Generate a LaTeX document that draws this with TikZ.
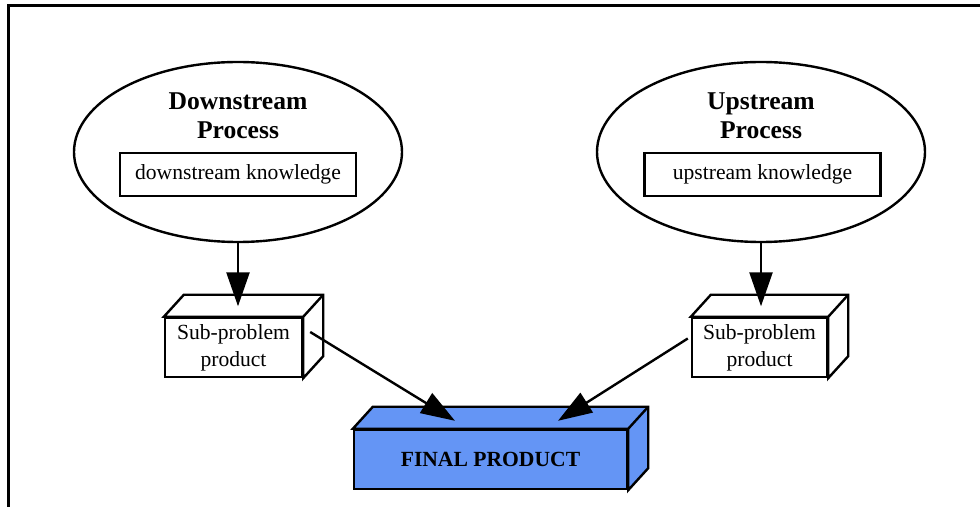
\documentclass[tikz,border=0pt]{standalone}
\usepackage{fontspec}
\setmainfont{Liberation Serif}
\usetikzlibrary{arrows.meta, shapes.geometric}
\definecolor{prodblue}{HTML}{6495F5}

\begin{document}
\begin{tikzpicture}[
    x=0.5pt, y=-0.5pt,
    >={Triangle[length=17pt, width=11.5pt]},
    line width=1.2pt,
  ]

  \useasboundingbox (0,0) rectangle (980,507);

  % Frame (right and bottom sides run off the page)
  \draw[line width=1.5pt] (8,6) rectangle (1020,540);

  % --- Styles ---
  \tikzset{
    process/.style={ellipse, draw, minimum width=164pt, minimum height=90pt,
                    inner sep=0pt},
    proctitle/.style={font=\fontsize{12.8}{14.5}\selectfont\bfseries,
                      align=center},
    knowbox/.style={draw, minimum width=118pt, minimum height=21.5pt,
                    inner sep=0pt, font=\fontsize{10.8}{13}\selectfont},
    box3d/.style={draw, minimum height=29.5pt, inner sep=0pt, align=center,
                  font=\fontsize{10.8}{13.5}\selectfont},
    flow/.style={->, shorten >=5.25pt},
  }

  % --- Processes (top) ---
  \node[process] (downProc) at (238,152) {};
  \node[proctitle] (downTitle) at (238,116) {Downstream\\Process};
  \node[knowbox] (downKnow) at (238,174.5) {downstream knowledge};

  \node[process] (upProc) at (761,152) {};
  \node[proctitle] (upTitle) at (761,116) {Upstream\\Process};
  \node[knowbox] (upKnow) at (762.5,174.5) {upstream knowledge};

  % --- Sub-problem products ---
  \node[box3d, minimum width=68.5pt] (subL) at (233.5,347.5) {Sub-problem\\product};
  \node[box3d, minimum width=67.5pt] (subR) at (759.5,347.5) {Sub-problem\\product};

  % --- Final product ---
  \node[box3d, fill=prodblue, minimum width=136.5pt, font=\fontsize{10.8}{13}\selectfont\bfseries]
    (final) at (490.5,459.5) {FINAL PRODUCT};

  % top and side faces of the boxes
  \foreach \n/\col in {subL/white, subR/white, final/prodblue}
    \draw[fill=\col] (\n.north west) -- ++(20,-22)
      -- ([shift={(20,-22)}]\n.north east) -- ([shift={(20,-22)}]\n.south east)
      -- (\n.south east) -- (\n.north east) -- cycle
      (\n.north east) -- ++(20,-22);

  % --- Edges ---
  \draw[flow] (downProc.south) -- (downProc.south |- subL.north);
  \draw[flow] (upProc.south) -- (upProc.south |- subR.north);
  \draw[->] ([shift={(7,-15.5)}]subL.east) -- ([shift={(-35.5,-8)}]final.north);
  \draw[->] ([shift={(-3,-9)}]subR.west) -- ([shift={(67.5,-8)}]final.north);

\end{tikzpicture}
\end{document}
